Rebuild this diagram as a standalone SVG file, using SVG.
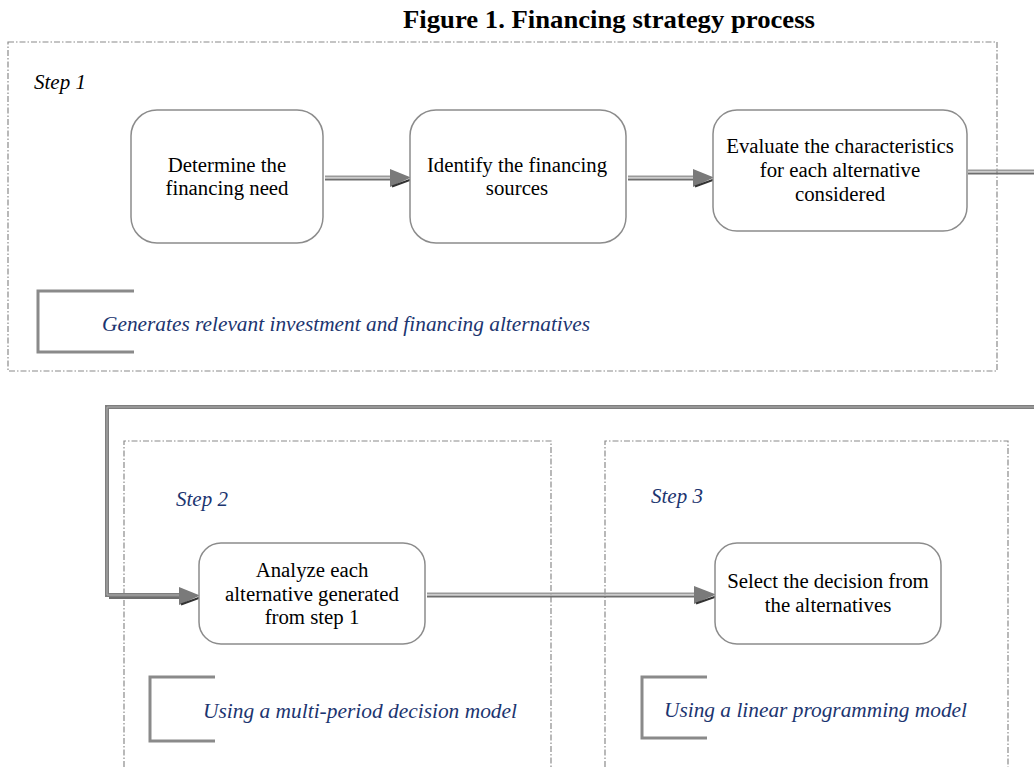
<svg xmlns="http://www.w3.org/2000/svg" width="1034" height="767" viewBox="0 0 1034 767">
<style>
.frame{fill:none;stroke:#8a8a8a;stroke-width:1.2;stroke-dasharray:6 2 1.5 2}
.node{fill:#fff;stroke:#8c8c8c;stroke-width:1.5}
.t{font-family:"Liberation Serif",serif;font-size:20.8px;fill:#000;text-anchor:middle}
.step{font-family:"Liberation Serif",serif;font-size:21px;font-style:italic}
.note{font-family:"Liberation Serif",serif;font-size:21px;font-style:italic;fill:#1c3570}
.br{fill:none;stroke:#8a8a8a;stroke-width:3}
.c1{fill:none;stroke:#9a9a9a;stroke-width:2}
.c2{fill:none;stroke:#6e6e6e;stroke-width:2}
.ah{fill:#7a7a7a}
.ahs{fill:none;stroke:#333;stroke-width:2}
</style>
<rect width="1034" height="767" fill="#fff"/>
<text x="609" y="28" font-family="Liberation Serif,serif" font-size="25" font-weight="bold" text-anchor="middle" textLength="412" lengthAdjust="spacingAndGlyphs">Figure 1. Financing strategy process</text>

<g id="step1">
<rect class="frame" x="8" y="42" width="989" height="329"/>
<text class="step" x="34" y="89">Step 1</text>
<path class="br" d="M134,291 H38 V352 H134"/>
<text class="note" x="102" y="331" textLength="488" lengthAdjust="spacingAndGlyphs">Generates relevant investment and financing alternatives</text>
</g>
<g id="step2">
<path class="frame" d="M124,767 V441 H551 V767"/>
<text class="step" x="176" y="506" fill="#1c3570">Step 2</text>
<path class="br" d="M215,677 H150 V741 H215"/>
<text class="note" x="203" y="718" textLength="314" lengthAdjust="spacingAndGlyphs">Using a multi-period decision model</text>
</g>
<g id="step3">
<path class="frame" d="M605,767 V441 H1008 V767"/>
<text class="step" x="651" y="503" fill="#1c3570">Step 3</text>
<path class="br" d="M707,677 H642 V738 H707"/>
<text class="note" x="664" y="717" textLength="303" lengthAdjust="spacingAndGlyphs">Using a linear programming model</text>
</g>

<g id="connectors">
<path class="c1" d="M325,176.5 H392"/>
<path class="c2" d="M325,179.5 H392"/>
<polygon class="ah" points="390,169 411,177.5 390,187"/>
<path class="ahs" d="M392,186.5 L411,179.5"/>

<path class="c1" d="M628,176.5 H695"/>
<path class="c2" d="M628,179.5 H695"/>
<polygon class="ah" points="693,169 714,177.5 693,187"/>
<path class="ahs" d="M695,186.5 L714,179.5"/>

<path class="c1" d="M968,170.5 H1034"/>
<path class="c2" d="M968,173.5 H1034"/>

<path d="M1034,407 H107 V595 H182" fill="none" stroke="#7e7e7e" stroke-width="4"/>
<path d="M1034,407 H107 V595 H182" fill="none" stroke="#b0b0b0" stroke-width="1"/>
<path class="c2" d="M109,598 H182"/>
<polygon class="ah" points="179,587 200,595.5 179,605"/>
<path class="ahs" d="M181,604.5 L200,597.5"/>

<path class="c1" d="M427,593.5 H697"/>
<path class="c2" d="M427,596.5 H697"/>
<polygon class="ah" points="694,586 716,594.5 694,604"/>
<path class="ahs" d="M696,603.5 L716,596.5"/>
</g>

<g id="n1">
<rect class="node" x="131" y="110" width="192" height="133" rx="26"/>
<text class="t" x="227" y="172">Determine the</text>
<text class="t" x="227" y="195">financing need</text>
</g>
<g id="n2">
<rect class="node" x="410" y="110" width="216" height="133" rx="26"/>
<text class="t" x="517" y="172">Identify the financing</text>
<text class="t" x="517" y="195">sources</text>
</g>
<g id="n3">
<rect class="node" x="713" y="110" width="254" height="121" rx="24"/>
<text class="t" x="840" y="153">Evaluate the characteristics</text>
<text class="t" x="840" y="177">for each alternative</text>
<text class="t" x="840" y="201">considered</text>
</g>
<g id="n4">
<rect class="node" x="199" y="543" width="226" height="101" rx="22"/>
<text class="t" x="312" y="577">Analyze each</text>
<text class="t" x="312" y="601">alternative generated</text>
<text class="t" x="312" y="624">from step 1</text>
</g>
<g id="n5">
<rect class="node" x="715" y="543" width="226" height="101" rx="22"/>
<text class="t" x="828" y="588">Select the decision from</text>
<text class="t" x="828" y="612">the alternatives</text>
</g>
</svg>
